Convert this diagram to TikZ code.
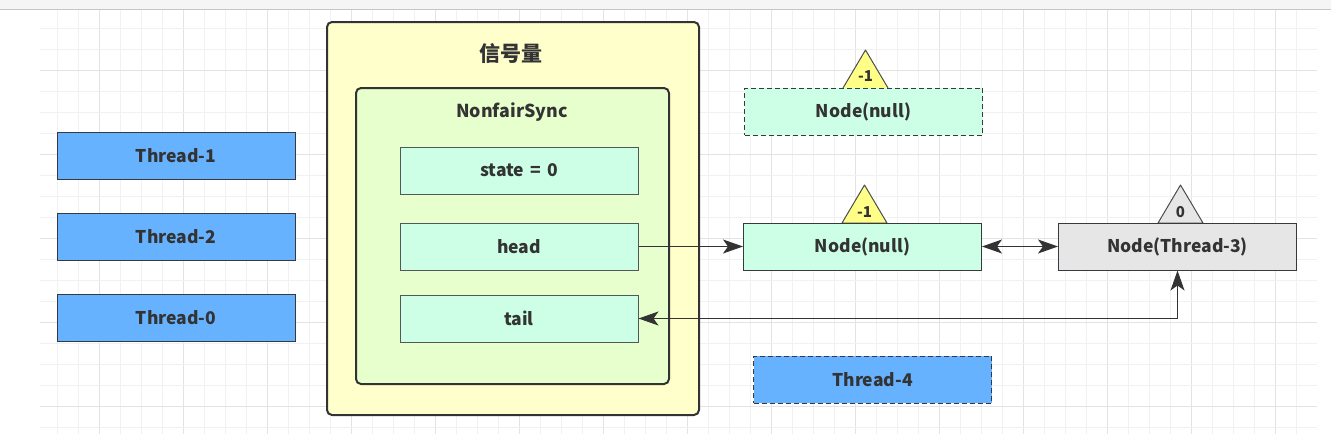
\documentclass[tikz,border=0pt]{standalone}
\usepackage{fontspec}
\setmainfont{Noto Sans CJK SC}
\usetikzlibrary{arrows.meta}
\definecolor{gridminor}{HTML}{F1F1F1}
\definecolor{gridmajor}{HTML}{E3E3E3}
\definecolor{topband}{HTML}{F5F5F5}
\definecolor{outerfill}{HTML}{FFFFCC}
\definecolor{innerfill}{HTML}{E6FFCC}
\definecolor{fieldfill}{HTML}{CCFFE6}
\definecolor{threadfill}{HTML}{66B2FF}
\definecolor{greyfill}{HTML}{E6E6E6}
\definecolor{trifill}{HTML}{FFFF88}
\definecolor{ink}{HTML}{333333}
\definecolor{edge}{HTML}{36393D}
\tikzset{
  box/.style={draw=edge, line width=1pt, minimum width=238pt, minimum height=47pt, inner sep=0pt, font=\fontsize{17.5}{19}\selectfont\bfseries, text=ink},
  fieldbox/.style={box, fill=fieldfill, draw=edge!85},
  threadbox/.style={box, fill=threadfill},
  dashbox/.style={dash pattern=on 5pt off 3pt},
  container/.style={draw=ink, line width=2pt, rounded corners=5pt},
  tri/.style={draw=edge!90, line width=1pt, line join=round},
  trilabel/.style={font=\fontsize{15}{17}\selectfont\bfseries, text=ink, inner sep=0pt},
  conn/.style={draw=ink, line width=1pt, {Stealth[length=20pt,width=14pt,inset=5pt]}-{Stealth[length=20pt,width=14pt,inset=5pt]}},
  oneway/.style={draw=ink, line width=1pt, -{Stealth[length=20pt,width=14pt,inset=5pt]}},
  titletext/.style={font=\fontsize{17.8}{20}\selectfont\bfseries, text=ink, inner sep=0pt}
}
\begin{document}
\begin{tikzpicture}[x=1pt,y=-1pt]
\useasboundingbox (0,0) rectangle (1331,434);
% top band
\fill[topband] (0,0) rectangle (1331,9);
\draw[gray!45, line width=0.8pt] (0,9.5) -- (1331,9.5);
% grid
\foreach \i in {0,...,60} {
  \pgfmathsetmacro{\xx}{57.3+21*\i}
  \ifdim \xx pt<1317pt
    \pgfmathtruncatemacro{\mm}{mod(\i+2,4)}
    \ifnum\mm=0
      \draw[gridmajor, line width=1pt] (\xx,10) -- (\xx,434);
    \else
      \draw[gridminor, line width=1pt] (\xx,10) -- (\xx,434);
    \fi
  \fi
}
\foreach \j in {0,...,20} {
  \pgfmathsetmacro{\yy}{28+21*\j}
  \ifdim \yy pt<434pt
    \pgfmathtruncatemacro{\mm}{mod(\j+2,4)}
    \ifnum\mm=0
      \draw[gridmajor, line width=1pt] (40,\yy) -- (1317,\yy);
    \else
      \draw[gridminor, line width=1pt] (40,\yy) -- (1317,\yy);
    \fi
  \fi
}
% containers
\draw[container, fill=outerfill] (327,22) rectangle (699,415);
\node[titletext, font=\fontsize{21}{23}\selectfont\bfseries] (sem) at (511,54) {信号量};
\draw[container, fill=innerfill] (356,88) rectangle (669,384);
\node[titletext] (nfs) at (512,112) {NonfairSync};
% fields
\node[fieldbox] (state) at (519,170.5) {state\hspace{0.35em}=\hspace{0.35em}0};
\node[fieldbox] (head) at (519,246.5) {head};
\node[fieldbox] (tail) at (519,318.5) {tail};
% threads
\node[threadbox] (t1) at (176,155.5) {Thread-1};
\node[threadbox] (t2) at (176,236.5) {Thread-2};
\node[threadbox] (t0) at (176,317.5) {Thread-0};
\node[threadbox, dashbox] (t4) at (872.5,379.5) {Thread-4};
% triangles
\draw[tri, fill=trifill] (843,88) -- (865.5,50) -- (888,88);
\node[trilabel] (w1) at (865.5,76) {-1};
\draw[tri, fill=trifill] (842,223) -- (864.5,185) -- (887,223) -- cycle;
\node[trilabel] (w2) at (864.5,212) {-1};
\draw[tri, fill=greyfill] (1158,223) -- (1180.5,185) -- (1203,223) -- cycle;
\node[trilabel] (w3) at (1180.5,212) {0};
% nodes
\node[box, fill=fieldfill, dashbox] (nold) at (863.5,111.5) {Node(null)};
\node[box, fill=fieldfill] (nnull) at (862.5,246.5) {Node(null)};
\node[box, fill=greyfill] (nt3) at (1177.5,246.5) {Node(Thread-3)};
% connectors
\draw[oneway] (head.east) -- (nnull.west);
\draw[conn] (nnull.east) -- (nt3.west);
\draw[conn] (tail.east) -- (nt3.south |- tail.east) -- (nt3.south);
\end{tikzpicture}
\end{document}
